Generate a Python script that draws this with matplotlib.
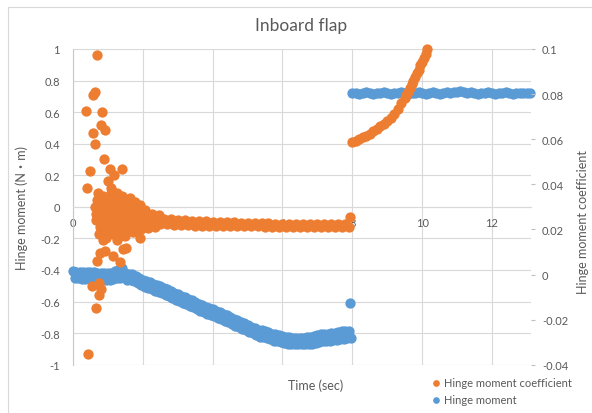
import matplotlib
matplotlib.use("Agg")
import matplotlib.pyplot as plt
from matplotlib.patches import Rectangle

# Hinge moment (N·m), left axis
hm_time = [
    0.0, 0.05, 0.1, 0.15, 0.2, 0.25, 0.3, 0.35, 0.4, 0.45, 0.5, 0.55, 0.6, 0.65, 0.7, 0.75, 0.8, 0.85, 0.9, 0.95,
    1.0, 1.05, 1.1, 1.15, 1.2, 1.25, 1.3, 1.35, 1.4, 1.45, 1.5, 1.55, 1.6, 1.65, 1.7, 1.75, 1.8, 1.85, 1.9, 1.95,
    2.0, 2.05, 2.1, 2.15, 2.2, 2.25, 2.3, 2.35, 2.4, 2.45, 2.5, 2.55, 2.6, 2.65, 2.7, 2.75, 2.8, 2.85, 2.9, 2.95,
    3.0, 3.05, 3.1, 3.15, 3.2, 3.25, 3.3, 3.35, 3.4, 3.45, 3.5, 3.55, 3.6, 3.65, 3.7, 3.75, 3.8, 3.85, 3.9, 3.95,
    4.0, 4.05, 4.1, 4.15, 4.2, 4.25, 4.3, 4.35, 4.4, 4.45, 4.5, 4.55, 4.6, 4.65, 4.7, 4.75, 4.8, 4.85, 4.9, 4.95,
    5.0, 5.05, 5.1, 5.15, 5.2, 5.25, 5.3, 5.35, 5.4, 5.45, 5.5, 5.55, 5.6, 5.65, 5.7, 5.75, 5.8, 5.85, 5.9, 5.95,
    6.0, 6.05, 6.1, 6.15, 6.2, 6.25, 6.3, 6.35, 6.4, 6.45, 6.5, 6.55, 6.6, 6.65, 6.7, 6.75, 6.8, 6.85, 6.9, 6.95,
    7.0, 7.05, 7.1, 7.15, 7.2, 7.25, 7.3, 7.35, 7.4, 7.45, 7.5, 7.55, 7.6, 7.65, 7.7, 7.75, 7.8, 7.85, 7.9, 7.95,
    7.94,
    8.0, 8.1, 8.2, 8.3, 8.4, 8.5, 8.6, 8.7, 8.8, 8.9,
    9.0, 9.1, 9.2, 9.3, 9.4, 9.5, 9.6, 9.7, 9.8, 9.9,
    10.0, 10.1, 10.2, 10.3, 10.4, 10.5, 10.6, 10.7, 10.8, 10.9,
    11.0, 11.1, 11.2, 11.3, 11.4, 11.5, 11.6, 11.7, 11.8, 11.9,
    12.0, 12.1, 12.2, 12.3, 12.4, 12.5, 12.6, 12.7, 12.8, 12.9,
    13.0, 13.1,
]
hm_value = [
    -0.408, -0.452, -0.410, -0.450, -0.413, -0.457, -0.415, -0.455, -0.412, -0.458,
    -0.413, -0.457, -0.415, -0.455, -0.418, -0.462, -0.420, -0.460, -0.418, -0.462,
    -0.418, -0.462, -0.420, -0.460, -0.408, -0.452, -0.400, -0.448, -0.385, -0.442,
    -0.418, -0.462, -0.425, -0.465, -0.428, -0.472, -0.438, -0.482, -0.453, -0.497,
    -0.463, -0.507, -0.468, -0.512, -0.478, -0.522, -0.488, -0.532, -0.493, -0.537,
    -0.503, -0.547, -0.513, -0.557, -0.523, -0.567, -0.533, -0.577, -0.543, -0.587,
    -0.553, -0.597, -0.563, -0.607, -0.573, -0.617, -0.583, -0.627, -0.593, -0.637,
    -0.603, -0.647, -0.613, -0.657, -0.623, -0.667, -0.633, -0.677, -0.638, -0.682,
    -0.648, -0.692, -0.658, -0.702, -0.668, -0.712, -0.678, -0.722, -0.688, -0.732,
    -0.698, -0.742, -0.708, -0.752, -0.718, -0.762, -0.728, -0.772, -0.738, -0.782,
    -0.748, -0.792, -0.758, -0.802, -0.768, -0.812, -0.778, -0.822, -0.783, -0.827,
    -0.788, -0.832, -0.793, -0.837, -0.803, -0.847, -0.808, -0.852, -0.813, -0.857,
    -0.818, -0.862, -0.823, -0.867, -0.823, -0.867, -0.828, -0.872, -0.828, -0.872,
    -0.828, -0.872, -0.828, -0.872, -0.823, -0.867, -0.823, -0.867, -0.818, -0.862,
    -0.813, -0.857, -0.808, -0.852, -0.808, -0.852, -0.803, -0.847, -0.798, -0.842,
    -0.798, -0.842, -0.790, -0.837, -0.788, -0.837, -0.785, -0.832, -0.788, -0.832,
    -0.61,
    0.72, 0.72, 0.715, 0.72, 0.725, 0.72, 0.715, 0.72, 0.72, 0.725,
    0.72, 0.715, 0.72, 0.72, 0.725, 0.72, 0.715, 0.72, 0.72, 0.725,
    0.72, 0.715, 0.72, 0.725, 0.72, 0.715, 0.72, 0.725, 0.72, 0.725,
    0.73, 0.735, 0.725, 0.72, 0.725, 0.72, 0.715, 0.72, 0.72, 0.725,
    0.72, 0.715, 0.72, 0.72, 0.725, 0.72, 0.715, 0.72, 0.72, 0.72,
    0.72, 0.72,
]

# Hinge moment coefficient, right axis
hmc_time = [
    # scattered start-up points
    0.68, 0.37, 0.56, 0.62, 0.84, 0.80, 0.93, 0.58, 0.64, 0.90,
    0.49, 1.06, 1.39, 0.41, 1.18, 0.99, 1.10, 0.72,
    0.44, 0.65, 0.75, 0.79, 0.53, 0.68, 0.77, 0.91, 1.15, 1.44,
    1.53, 1.34, 0.87, 1.25, 1.91, 0.75,
    # dense cluster
    0.62, 0.66, 0.70, 0.72, 0.76, 0.80, 0.83, 0.86, 0.88, 0.91,
    0.94, 0.97, 1.00, 1.02, 1.05, 1.08, 1.10, 1.13, 1.16, 1.18,
    1.21, 1.24, 1.26, 1.29, 1.32, 1.34, 1.37, 1.40, 1.42, 1.45,
    1.48, 1.50, 1.53, 1.56, 1.58, 1.61, 1.64, 1.66, 1.69, 1.72,
    1.74, 1.77, 1.80, 1.83, 1.86, 1.88, 1.91, 1.94, 1.97, 0.74,
    0.95, 1.12, 1.35, 0.68, 1.03, 1.27, 1.55, 1.75, 0.85, 1.47,
    0.78, 0.98, 1.20, 1.38, 1.60, 1.82, 0.90, 1.30, 1.70, 1.52,
    0.65, 0.73, 0.82, 0.89, 0.96, 1.01, 1.07, 1.14, 1.19, 1.23,
    1.31, 1.36, 1.43, 1.49, 1.57, 1.63, 1.68, 1.79, 1.85, 1.92,
    1.99, 2.08,
    1.95, 2.05, 2.15, 2.25, 2.35, 2.45,
    # steady band
    2.0, 2.1, 2.2, 2.3, 2.4, 2.5, 2.6, 2.7, 2.8, 2.9,
    3.0, 3.1, 3.2, 3.3, 3.4, 3.5, 3.6, 3.7, 3.8, 3.9,
    4.0, 4.1, 4.2, 4.3, 4.4, 4.5, 4.6, 4.7, 4.8, 4.9,
    5.0, 5.1, 5.2, 5.3, 5.4, 5.5, 5.6, 5.7, 5.8, 5.9,
    6.0, 6.1, 6.2, 6.3, 6.4, 6.5, 6.6, 6.7, 6.8, 6.9,
    7.0, 7.1, 7.2, 7.3, 7.4, 7.5, 7.6, 7.7, 7.8, 7.9,
    7.94,
    # rising curve after release
    8.0, 8.1, 8.2, 8.3, 8.4, 8.5, 8.6, 8.7, 8.8, 8.9,
    9.0, 9.1, 9.2, 9.3, 9.4, 9.5, 9.55, 9.6, 9.65, 9.7,
    9.75, 9.8, 9.85, 9.9, 9.95, 10.0, 10.05, 10.1, 10.15,
]
hmc_value = [
    0.0972, 0.0727, 0.0797, 0.0811, 0.0720, 0.0664, 0.0643, 0.0629, 0.0580, 0.0510,
    0.0461, 0.0468, 0.0468, 0.0384, 0.0440, 0.0416, 0.0384, 0.0363,
    -0.0351, -0.0148, -0.0092, -0.0064, -0.0050, 0.0062, 0.0097, 0.0104, 0.0083, 0.0111,
    0.0118, 0.0055, 0.0153, 0.0153, 0.0160, -0.0036,
    0.030, 0.024, 0.033, 0.027, 0.021, 0.031, 0.025, 0.035, 0.028, 0.019,
    0.032, 0.026, 0.034, 0.022, 0.029, 0.036, 0.024, 0.031, 0.018, 0.027,
    0.034, 0.023, 0.036, 0.029, 0.020, 0.033, 0.026, 0.035, 0.022, 0.030,
    0.017, 0.033, 0.025, 0.031, 0.021, 0.028, 0.034, 0.024, 0.030, 0.019,
    0.027, 0.032, 0.023, 0.029, 0.020, 0.026, 0.031, 0.022, 0.027, 0.018,
    0.016, 0.021, 0.017, 0.029, 0.030, 0.025, 0.028, 0.024, 0.022, 0.027,
    0.029, 0.021, 0.030, 0.024, 0.032, 0.025, 0.026, 0.032, 0.022, 0.020,
    0.027, 0.031, 0.028, 0.033, 0.029, 0.026, 0.032, 0.028, 0.033, 0.030,
    0.031, 0.029, 0.033, 0.029, 0.026, 0.030, 0.026, 0.027, 0.025, 0.024,
    0.0245, 0.0240,
    0.0200, 0.0285, 0.0205, 0.0270, 0.0212, 0.0262,
    0.0264, 0.0236, 0.0258, 0.0230, 0.0252, 0.0226, 0.0248, 0.0222, 0.0244, 0.0220,
    0.0242, 0.0219, 0.0240, 0.0218, 0.0238, 0.0217, 0.0237, 0.0216, 0.0236, 0.0215,
    0.0235, 0.0215, 0.0233, 0.0215, 0.0232, 0.0214, 0.0231, 0.0214, 0.0230, 0.0213,
    0.0229, 0.0213, 0.0228, 0.0213, 0.0227, 0.0212, 0.0227, 0.0212, 0.0226, 0.0211,
    0.0226, 0.0211, 0.0225, 0.0211, 0.0225, 0.0210, 0.0224, 0.0210, 0.0224, 0.0210,
    0.0224, 0.0209, 0.0223, 0.0209, 0.0223, 0.0209, 0.0223, 0.0209, 0.0224, 0.0210,
    0.0253,
    0.0587, 0.0594, 0.0601, 0.0608, 0.0615, 0.0622, 0.0636, 0.0647, 0.0657, 0.0668,
    0.0682, 0.0696, 0.0713, 0.0734, 0.0759, 0.0783, 0.0797, 0.0811, 0.0825, 0.0843,
    0.0860, 0.0874, 0.0892, 0.0909, 0.0927, 0.0944, 0.0962, 0.0979, 0.1000,
]

x_ticks = [0, 2, 4, 6, 8, 10, 12]
left_ticks = [-1, -0.8, -0.6, -0.4, -0.2, 0, 0.2, 0.4, 0.6, 0.8, 1]
left_labels = ["-1", "-0.8", "-0.6", "-0.4", "-0.2", "0", "0.2", "0.4", "0.6", "0.8", "1"]
right_ticks = [-0.04, -0.02, 0, 0.02, 0.04, 0.06, 0.08, 0.1]
right_labels = ["-0.04", "-0.02", "0", "0.02", "0.04", "0.06", "0.08", "0.1"]

ORANGE = "#ED7D31"
BLUE = "#5B9BD5"
TEXT = "#595959"
GRID = "#d9d9d9"

plt.rcParams["font.family"] = ["Lato", "Noto Sans CJK JP", "DejaVu Sans"]

fig = plt.figure(figsize=(5.92, 4.14), dpi=100)
fig.patches.append(Rectangle((8 / 592, -0.1), 1.2, 1.1 - 8 / 414,
                             transform=fig.transFigure, fill=False,
                             edgecolor=GRID, linewidth=0.8))

ax = fig.add_axes([73 / 592, 1 - 365.7 / 414, 458 / 592, 315.7 / 414])
ax2 = ax.twinx()

sc_b = ax.scatter(hm_time, hm_value, s=55, color=BLUE, linewidths=0,
                  clip_on=False, label="Hinge moment", zorder=3)
sc_o = ax2.scatter(hmc_time, hmc_value, s=55, color=ORANGE, linewidths=0,
                   clip_on=False, label="Hinge moment coefficient", zorder=3)

ax.set_xlim(0, 13.12)
ax.set_ylim(-1, 1)
ax2.set_ylim(-0.04, 0.1)

ax.set_xticks(x_ticks)
ax.set_xticklabels([str(t) for t in x_ticks])
ax.set_yticks(left_ticks)
ax.set_yticklabels(left_labels)
ax2.set_yticks(right_ticks)
ax2.set_yticklabels(right_labels)

ax.grid(True, color=GRID, linewidth=0.8, zorder=0)
ax.set_axisbelow(True)

for s in ["top", "right"]:
    ax.spines[s].set_visible(False)
for s in ax2.spines.values():
    s.set_visible(False)
ax.spines["bottom"].set_position(("data", 0))
ax.spines["bottom"].set_color(GRID)
ax.spines["left"].set_color("#c8c8c8")
ax.spines["bottom"].set_linewidth(0.8)
ax.spines["left"].set_linewidth(0.8)

ax.tick_params(axis="x", length=0, pad=7, labelsize=8, labelcolor=TEXT)
ax.tick_params(axis="y", length=0, pad=9.5, labelsize=8, labelcolor=TEXT)
ax2.tick_params(axis="y", direction="out", length=3, width=0.8, color="#bfbfbf",
                pad=5, labelsize=8, labelcolor=TEXT)

fig.text(301 / 592, 1 - 26 / 414, "Inboard flap", ha="center", va="center",
         fontsize=12.5, color=TEXT)
fig.text(316 / 592, 1 - 386 / 414, "Time (sec)", ha="center", va="center",
         fontsize=9, color=TEXT)
fig.text(22 / 592, 1 - 207.5 / 414, "Hinge moment (N・m)", rotation=90,
         ha="center", va="center", fontsize=9, color=TEXT)
fig.text(583 / 592, 1 - 222 / 414, "Hinge moment coefficient", rotation=90,
         ha="center", va="center", fontsize=9, color=TEXT)

fig.legend(handles=[sc_o, sc_b], loc="upper left",
           bbox_to_anchor=(433 / 592, 1 - 378 / 414), frameon=False,
           fontsize=8, labelcolor=TEXT, markerscale=0.65, handlelength=0.6,
           handletextpad=0.4, labelspacing=0.55, borderpad=0, borderaxespad=0)

fig.savefig("out.png", dpi=100)
